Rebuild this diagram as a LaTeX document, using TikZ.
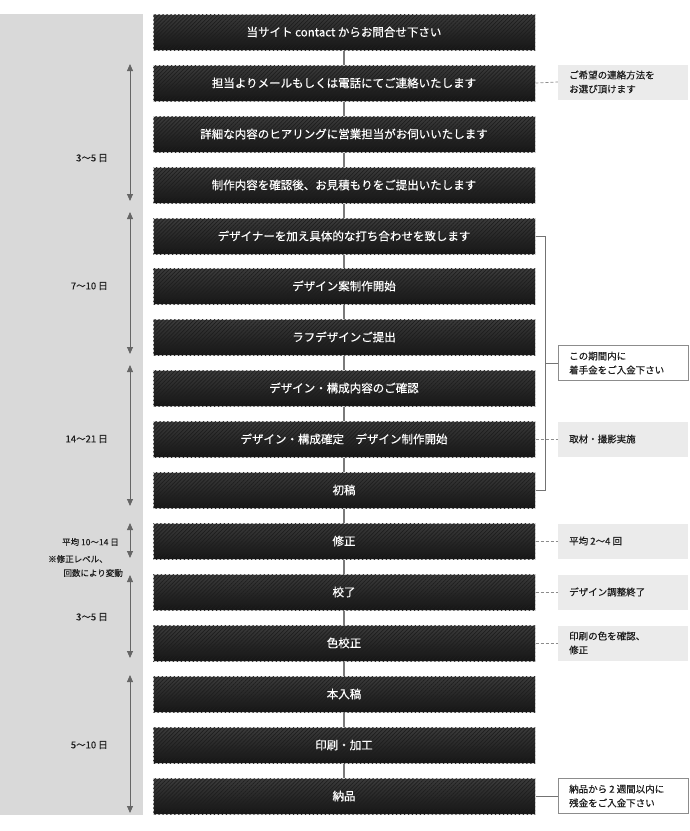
\documentclass[tikz,border=0pt]{standalone}
\usepackage{fontspec}
\setmainfont{Noto Sans CJK JP}
\newfontfamily\medfont{Noto Sans CJK JP}[FakeBold=0.5]
\usetikzlibrary{patterns.meta,arrows.meta}
\definecolor{panel}{HTML}{D9D9D9}
\definecolor{notegray}{HTML}{EBEBEB}
\definecolor{boxtop}{HTML}{3C3C3C}
\definecolor{boxbot}{HTML}{151515}
\definecolor{stripe}{HTML}{1E1E1E}
\definecolor{connc}{HTML}{7A7A7A}
\definecolor{txt}{HTML}{1E1E1E}
\tikzset{
  stepbox/.style={minimum width=382pt, minimum height=36pt, inner sep=0pt,
    top color=boxtop, bottom color=boxbot, draw=black!15, line width=1pt,
    text=white, font=\medfont\fontsize{11.5}{14}\selectfont,
    postaction={pattern={Lines[angle=45,distance=2.8pt,line width=0.7pt]}, pattern color=stripe}},
  notebox/.style={minimum width=130pt, minimum height=35pt, inner sep=0pt, fill=notegray},
  notewhite/.style={notebox, fill=white, draw=black!45, line width=0.7pt},
  notetext/.style={anchor=west, text=txt, font=\medfont\fontsize{9.5}{14}\selectfont, align=left, inner sep=0pt},
  daylabel/.style={text=txt, font=\medfont\fontsize{9.5}{12}\selectfont, inner sep=0pt},
  smalllabel/.style={daylabel, font=\medfont\fontsize{8.5}{10}\selectfont},
  conn/.style={draw=connc, line width=1.3pt},
  dashconn/.style={draw=black!45, line width=0.7pt, dash pattern=on 3pt off 2pt},
  solidconn/.style={draw=black!55, line width=0.8pt},
  span/.style={draw=black!60, line width=0.8pt, {Triangle[width=6pt,length=7pt]}-{Triangle[width=6pt,length=7pt]}},
}
\begin{document}
\begin{tikzpicture}[x=1pt,y=-1pt]
\useasboundingbox (0,0) rectangle (690,831);
\fill[panel] (0,14) rectangle (143,815);
% steps
\node[stepbox] (b1) at (344,32) {当サイト contact からお問合せ下さい};
\node[stepbox] (b2) at (344,83) {担当よりメールもしくは電話にてご連絡いたします};
\node[stepbox] (b3) at (344,134) {詳細な内容のヒアリングに営業担当がお伺いいたします};
\node[stepbox] (b4) at (344,185) {制作内容を確認後、お見積もりをご提出いたします};
\node[stepbox] (b5) at (344,236) {デザイナーを加え具体的な打ち合わせを致します};
\node[stepbox] (b6) at (344,286) {デザイン案制作開始};
\node[stepbox] (b7) at (344,337) {ラフデザインご提出};
\node[stepbox] (b8) at (344,388) {デザイン・構成内容のご確認};
\node[stepbox] (b9) at (344,439) {デザイン・構成確定　デザイン制作開始};
\node[stepbox] (b10) at (344,490) {初稿};
\node[stepbox] (b11) at (344,541) {修正};
\node[stepbox] (b12) at (344,592) {校了};
\node[stepbox] (b13) at (344,643) {色校正};
\node[stepbox] (b14) at (344,694) {本入稿};
\node[stepbox] (b15) at (344,745) {印刷・加工};
\node[stepbox] (b16) at (344,796) {納品};
\foreach \a/\b in {b1/b2,b2/b3,b3/b4,b4/b5,b5/b6,b6/b7,b7/b8,b8/b9,b9/b10,b10/b11,b11/b12,b12/b13,b13/b14,b14/b15,b15/b16}
  \draw[conn] (\a.south) -- (\b.north);
% notes
\node[notebox] (n1) at (623,82) {};
\node[notetext] (t1) at (569,82) {ご希望の連絡方法を\\お選び頂けます};
\node[notewhite] (n2) at (623,363) {};
\node[notetext] (t2) at (569,363) {この期間内に\\着手金をご入金下さい};
\node[notebox] (n3) at (623,439) {};
\node[notetext] (t3) at (569,439) {取材・撮影実施};
\node[notebox] (n4) at (623,541) {};
\node[notetext] (t4) at (569,541) {平均 2〜4 回};
\node[notebox] (n5) at (623,592) {};
\node[notetext] (t5) at (569,592) {デザイン調整終了};
\node[notebox] (n6) at (623,643) {};
\node[notetext] (t6) at (569,643) {印刷の色を確認、\\修正};
\node[notewhite] (n7) at (623,796) {};
\node[notetext] (t7) at (569,796) {納品から 2 週間以内に\\残金をご入金下さい};
\draw[dashconn] (b2.east) -- (n1.west);
\draw[dashconn] (b9.east) -- (n3.west);
\draw[dashconn] (b11.east) -- (n4.west);
\draw[dashconn] (b12.east) -- (n5.west);
\draw[dashconn] (b13.east) -- (n6.west);
\draw[solidconn] (b16.east) -- (n7.west);
% bracket
\coordinate (brt) at (545,236);
\coordinate (brb) at (545,490);
\coordinate (brm) at (545,363);
\draw[solidconn] (b5.east) -- (brt) -- (brb) -- (b10.east);
\draw[solidconn] (brm) -- (n2.west);
% spans
\coordinate (s1t) at (130,64); \coordinate (s1b) at (130,201);
\coordinate (s2t) at (130,212); \coordinate (s2b) at (130,354);
\coordinate (s3t) at (130,365); \coordinate (s3b) at (130,506);
\coordinate (s4t) at (130,523); \coordinate (s4b) at (130,558);
\coordinate (s5t) at (130,575); \coordinate (s5b) at (130,658);
\coordinate (s6t) at (130,675); \coordinate (s6b) at (130,813);
\draw[span] (s1t) -- (s1b);
\draw[span] (s2t) -- (s2b);
\draw[span] (s3t) -- (s3b);
\draw[span] (s4t) -- (s4b);
\draw[span] (s5t) -- (s5b);
\draw[span] (s6t) -- (s6b);
\node[daylabel, anchor=east] (l1) at (108,158) {3〜5 日};
\node[daylabel, anchor=east] (l2) at (108,286) {7〜10 日};
\node[daylabel, anchor=east] (l3) at (108,439) {14〜21 日};
\node[smalllabel, anchor=east] (l4a) at (119,542) {平均 10〜14 日};
\node[smalllabel, anchor=west] (l4b) at (48,559) {※修正レベル、};
\node[smalllabel, anchor=east] (l4c) at (123,573) {回数により変動};
\node[daylabel, anchor=east] (l5) at (108,617) {3〜5 日};
\node[daylabel, anchor=east] (l6) at (108,745) {5〜10 日};
\end{tikzpicture}
\end{document}
